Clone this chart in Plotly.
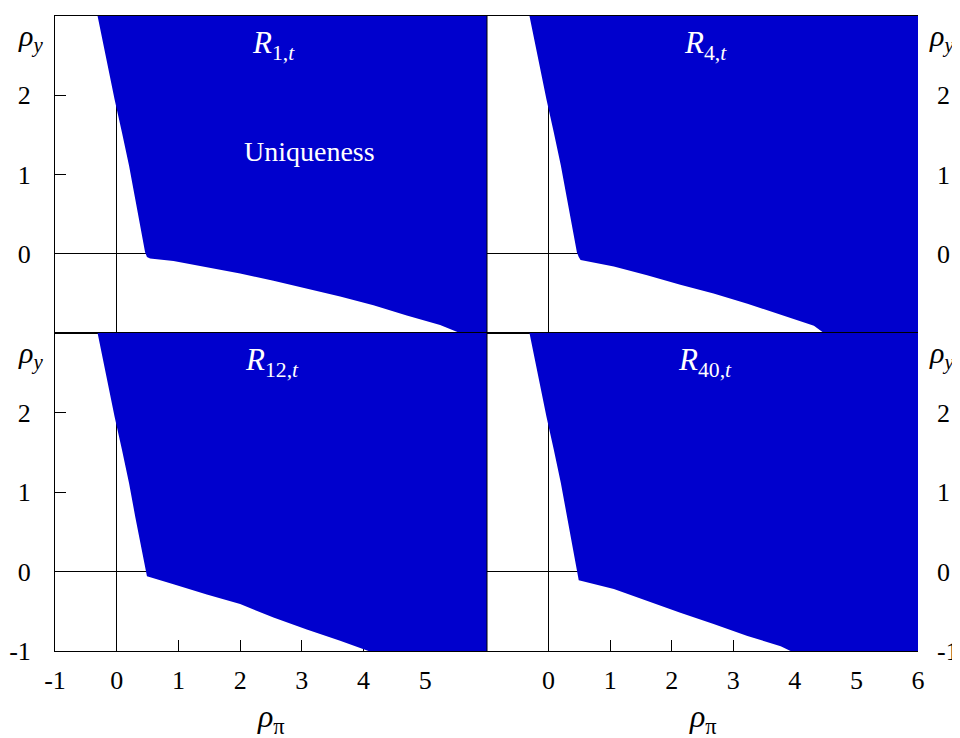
import plotly.graph_objects as go

# ---- data ----
# shared upper-left boundary of the uniqueness region (rho_pi, rho_y)
UPPER_X = [-0.31, -0.15, -0.035, 0.085, 0.20, 0.30, 0.40, 0.46]
UPPER_Y = [3.0, 2.37, 1.95, 1.53, 1.11, 0.69, 0.27, 0.02]

# lower boundaries per panel
R1_X = [0.49, 0.54, 0.92, 1.46, 2.0, 2.54, 3.08, 3.62, 4.16, 4.70, 5.24, 5.56]
R1_Y = [-0.04, -0.06, -0.09, -0.17, -0.25, -0.34, -0.44, -0.54, -0.65, -0.78, -0.90, -1.0]

R4_X = [0.49, 0.52, 1.06, 1.60, 2.14, 2.68, 3.23, 3.77, 4.31, 4.47]
R4_Y = [-0.04, -0.08, -0.16, -0.27, -0.39, -0.50, -0.63, -0.77, -0.91, -1.0]

R12_X = [0.49, 0.92, 1.46, 2.0, 2.54, 3.08, 3.62, 4.08]
R12_Y = [-0.06, -0.16, -0.29, -0.41, -0.58, -0.73, -0.87, -1.0]

R40_X = [0.49, 1.06, 1.60, 2.14, 2.68, 3.23, 3.77, 3.93]
R40_Y = [-0.11, -0.22, -0.37, -0.52, -0.66, -0.81, -0.94, -1.0]

PANEL_LABELS = ["<i>R</i><sub>1,<i>t</i></sub>", "<i>R</i><sub>4,<i>t</i></sub>",
                "<i>R</i><sub>12,<i>t</i></sub>", "<i>R</i><sub>40,<i>t</i></sub>"]
X_RANGE = [-1, 6]
Y_RANGE = [-1, 3]
X_TICKS_LEFT = [-1, 0, 1, 2, 3, 4, 5]
X_TICKS_RIGHT = [0, 1, 2, 3, 4, 5, 6]
Y_TICKS_TOP = [0, 1, 2]
Y_TICKS_BOTTOM = [-1, 0, 1, 2]

BLUE = "#0000CD"
FONT = "Liberation Serif"
OFF = 8            # page body margin in the browser
FW, FH = 960 - OFF, 738 - OFF


def fx(px):
    return (px - OFF) / FW


def fy(py):
    return 1 - (py - OFF) / FH


fig = go.Figure()

lowers = [(R1_X, R1_Y), (R4_X, R4_Y), (R12_X, R12_Y), (R40_X, R40_Y)]
axes = [("x", "y"), ("x2", "y2"), ("x3", "y3"), ("x4", "y4")]
for (lx, ly), (xa, ya) in zip(lowers, axes):
    px = list(UPPER_X) + list(lx) + [X_RANGE[1], X_RANGE[1]]
    py = list(UPPER_Y) + list(ly) + [Y_RANGE[0], Y_RANGE[1]]
    fig.add_trace(go.Scatter(x=px, y=py, mode="lines", fill="toself",
                             fillcolor=BLUE, line=dict(width=0, color=BLUE),
                             hoverinfo="skip", showlegend=False,
                             xaxis=xa, yaxis=ya))

xL = [fx(55), fx(487)]
xR = [fx(487), fx(918)]
yT = [fy(333), fy(16)]
yB = [fy(651), fy(333)]

tickfont = dict(family=FONT, size=26, color="black")


def labels(vals):
    return [("-" + str(-v)) if v < 0 else str(v) for v in vals]


def xax(domain, anchor, show, tickvals):
    return dict(domain=domain, anchor=anchor, range=X_RANGE, showgrid=False,
                zeroline=True, zerolinecolor="black", zerolinewidth=1,
                showline=True, linecolor="black", linewidth=1, mirror=True,
                ticks="inside" if show else "", ticklen=11, tickcolor="black",
                tickvals=tickvals, ticktext=labels(tickvals),
                showticklabels=show, tickfont=tickfont, automargin=False,
                ticklabelstandoff=6, layer="below traces", fixedrange=True)


def yax(domain, anchor, side, tickvals):
    return dict(domain=domain, anchor=anchor, range=Y_RANGE, side=side,
                showgrid=False, zeroline=True, zerolinecolor="black",
                zerolinewidth=1, showline=(side == "left"), linecolor="black",
                linewidth=1, mirror=False, ticks="inside", ticklen=11,
                tickcolor="black", tickvals=tickvals, ticktext=labels(tickvals),
                tickfont=tickfont, automargin=False,
                ticklabelstandoff=18, layer="below traces", fixedrange=True)


fig.update_layout(
    width=FW, height=FH, margin=dict(l=0, r=0, t=0, b=0, autoexpand=False),
    paper_bgcolor="white", plot_bgcolor="white",
    font=dict(family=FONT, size=26, color="black"),
    xaxis=xax(xL, "y", False, X_TICKS_LEFT),
    yaxis=yax(yT, "x", "left", Y_TICKS_TOP),
    xaxis2=xax(xR, "y2", False, X_TICKS_RIGHT),
    yaxis2=yax(yT, "x2", "right", Y_TICKS_TOP),
    xaxis3=xax(xL, "y3", True, X_TICKS_LEFT),
    yaxis3=yax(yB, "x3", "left", Y_TICKS_BOTTOM),
    xaxis4=xax(xR, "y4", True, X_TICKS_RIGHT),
    yaxis4=yax(yB, "x4", "right", Y_TICKS_BOTTOM),
)

# left frame line of the right-hand panels
fig.add_shape(type="line", xref="paper", yref="paper",
              x0=fx(487), x1=fx(487), y0=yB[0], y1=yT[1],
              line=dict(color="black", width=1))


def ann(text, px, py, size, color="black"):
    fig.add_annotation(text=text, xref="paper", yref="paper",
                       x=fx(px), y=fy(py), showarrow=False,
                       xanchor="center", yanchor="middle",
                       font=dict(family=FONT, size=size, color=color))


rho_y = "<i>ρ</i><sub><i>y</i></sub>"
rho_pi = "<i>ρ</i><sub>π</sub>"
ann(rho_y, 30, 38, 30)
ann(rho_y, 30, 355, 30)
ann(rho_y, 941, 38, 30)
ann(rho_y, 941, 355, 30)
ann(rho_pi, 271, 718, 32)
ann(rho_pi, 703, 718, 32)

ann(PANEL_LABELS[0], 273, 45, 31, "white")
ann(PANEL_LABELS[1], 705, 45, 31, "white")
ann(PANEL_LABELS[2], 272, 362, 31, "white")
ann(PANEL_LABELS[3], 705, 362, 31, "white")
ann("Uniqueness", 309, 152, 28, "white")

fig.write_html("out.html")
